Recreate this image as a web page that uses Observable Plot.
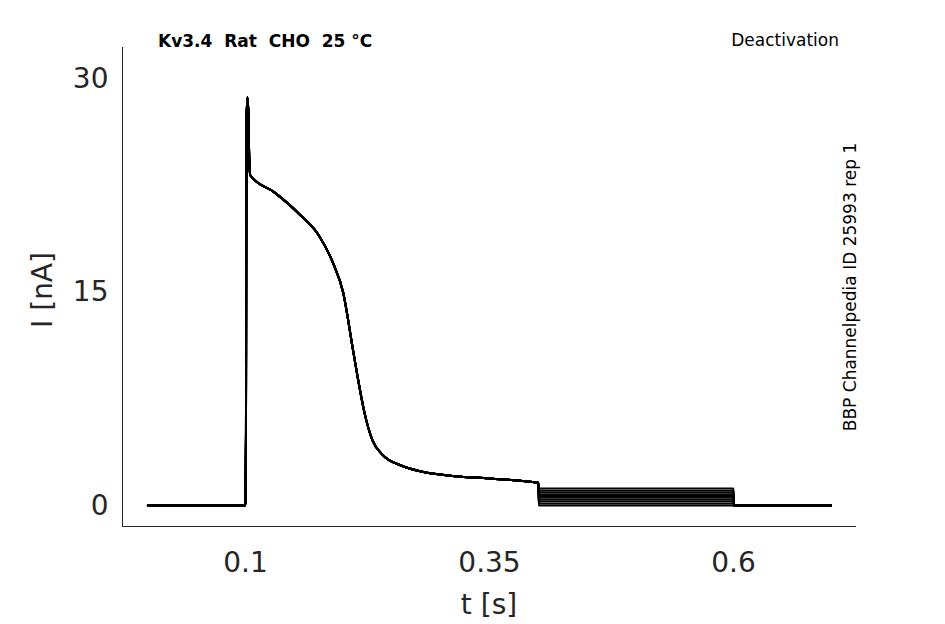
<!DOCTYPE html>
<html><head><meta charset="utf-8">
<script src="https://cdn.jsdelivr.net/npm/d3@7"></script>
<script src="https://cdn.jsdelivr.net/npm/@observablehq/plot@0.6"></script>
<style>body{margin:0;background:#fff;font-family:"DejaVu Sans",sans-serif}</style>
</head><body><div id="c"></div>
<script>
const baseT = [0,0.099,0.1,0.1005,0.101,0.102,0.103,0.104,0.105,0.13,0.155,0.175,0.19,0.2,0.21,0.215,0.222,0.23,0.24,0.26,0.28,0.31,0.35,0.4];
const baseI = [0,0,0.2,5,27,28.7,27.5,24,23.2,22,20.5,19,17,15,11,9,6.5,4.6,3.6,2.8,2.4,2.1,1.9,1.6];
const tailLevels = [0,0.15,0.3,0.45,0.6,0.75,0.9,1.05,1.2];
const xTicks = [0.1,0.35,0.6];
const yTicks = [0,15,30];

const data = [];
tailLevels.forEach((lv,k)=>{
  baseT.forEach((t,i)=>data.push({k,t,i:baseI[i]}));
  data.push({k,t:0.4005,i:lv});
  data.push({k,t:0.6,i:lv});
  data.push({k,t:0.6005,i:0});
  data.push({k,t:0.7,i:0});
});

const plot = Plot.plot({
  width:945,height:624,
  marginLeft:122,marginRight:89,marginTop:47,marginBottom:98,
  style:{fontFamily:"DejaVu Sans",fontSize:"28px",color:"#262626",background:"#fff"},
  x:{domain:[-0.026,0.726],label:null},
  y:{domain:[-1.47,32.2],label:null},
  marks:[
    Plot.axisX({ticks:xTicks,tickSize:0,tickPadding:26,fontSize:28,tickFormat:d=>String(d)}),
    Plot.axisY({ticks:yTicks,tickSize:0,tickPadding:14,fontSize:28,tickFormat:d=>String(d)}),
    Plot.line(data,{x:"t",y:"i",z:"k",stroke:"black",strokeWidth:2,curve:"monotone-x"}),
    Plot.ruleX([-0.026],{stroke:"#262626"}),
    Plot.ruleY([-1.47],{stroke:"#262626"})
  ]
});
const svg = d3.select(plot);
const add = (x,y,s,opts={}) => svg.append("text").attr("x",x).attr("y",y).attr("text-anchor",opts.anchor||"start")
  .attr("font-size",opts.size||17).attr("font-weight",opts.bold?"bold":"normal").attr("fill",opts.fill||"black")
  .attr("transform",opts.rot?`rotate(-90 ${x} ${y})`:null).text(s);
add(158,47,"Kv3.4  Rat  CHO  25 °C",{bold:true});
add(839,46,"Deactivation",{anchor:"end"});
add(856,287,"BBP Channelpedia ID 25993 rep 1",{anchor:"middle",rot:true});
add(52,290,"I [nA]",{anchor:"middle",rot:true,size:28,fill:"#262626"});
add(489,614,"t [s]",{anchor:"middle",size:28,fill:"#262626"});
document.getElementById("c").appendChild(plot);
</script></body></html>
